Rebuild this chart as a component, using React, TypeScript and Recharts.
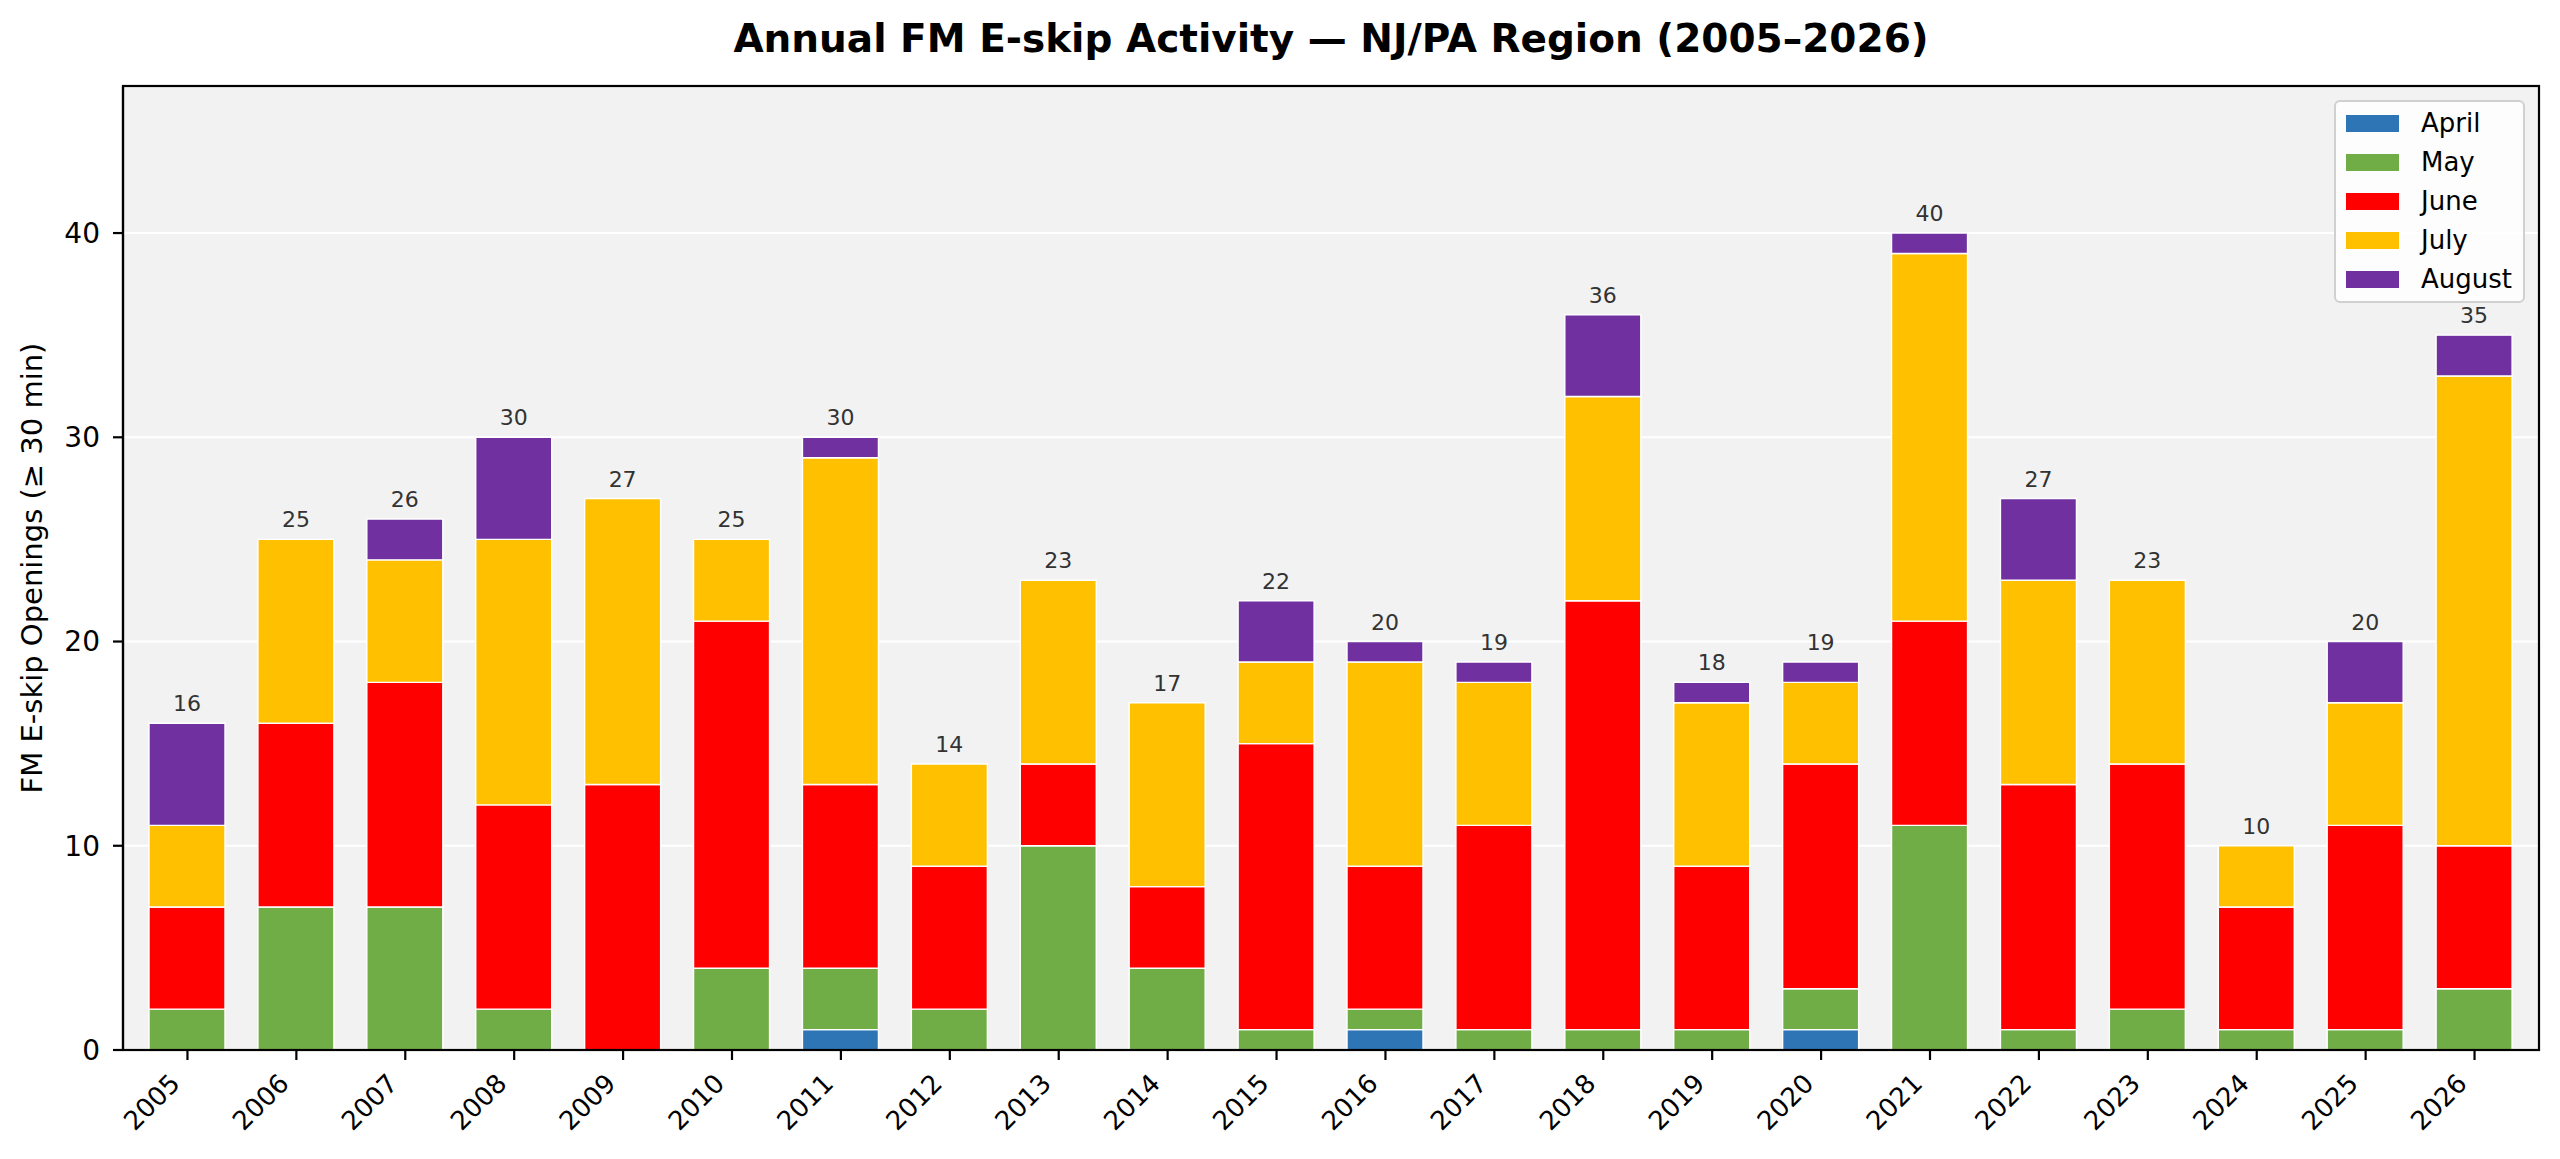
import React from 'react';
import {
  BarChart,
  Bar,
  XAxis,
  YAxis,
  CartesianGrid,
  LabelList,
} from 'recharts';

const years = [
  '2005', '2006', '2007', '2008', '2009', '2010', '2011', '2012', '2013', '2014', '2015',
  '2016', '2017', '2018', '2019', '2020', '2021', '2022', '2023', '2024', '2025', '2026',
];
const april = [0, 0, 0, 0, 0, 0, 1, 0, 0, 0, 0, 1, 0, 0, 0, 1, 0, 0, 0, 0, 0, 0];
const may = [2, 7, 7, 2, 0, 4, 3, 2, 10, 4, 1, 1, 1, 1, 1, 2, 11, 1, 2, 1, 1, 3];
const june = [5, 9, 11, 10, 13, 17, 9, 7, 4, 4, 14, 7, 10, 21, 8, 11, 10, 12, 12, 6, 10, 7];
const july = [4, 9, 6, 13, 14, 4, 16, 5, 9, 9, 4, 10, 7, 10, 8, 4, 18, 10, 9, 3, 6, 23];
const august = [5, 0, 2, 5, 0, 0, 1, 0, 0, 0, 3, 1, 1, 4, 1, 1, 1, 4, 0, 0, 3, 2];

const yTicks = [0, 10, 20, 30, 40];

const months = [
  { key: 'april', name: 'April', color: '#2e75b6' },
  { key: 'may', name: 'May', color: '#70ad47' },
  { key: 'june', name: 'June', color: '#ff0000' },
  { key: 'july', name: 'July', color: '#ffc000' },
  { key: 'august', name: 'August', color: '#7030a0' },
];

const data = years.map((year, i) => ({
  year,
  april: april[i],
  may: may[i],
  june: june[i],
  july: july[i],
  august: august[i],
  total: april[i] + may[i] + june[i] + july[i] + august[i],
}));

const FONT = 'DejaVu Sans, Verdana, sans-serif';
const AXIS = '#000';
const BAR_W = 76;
const X_PAD = { left: 10, right: 10 };

const YearTick = (props: any) => {
  const { x, y, payload } = props;
  const ex = x - 6;
  const ey = y + 25;
  return (
    <text
      x={ex}
      y={ey}
      textAnchor="end"
      fontSize={26}
      fill="#000"
      fontFamily={FONT}
      transform={`rotate(-45, ${ex}, ${ey})`}
    >
      {payload.value}
    </text>
  );
};

const TotalLabel = (props: any) => {
  const { x, y, width, value } = props;
  return (
    <text
      x={Number(x) + Number(width) / 2}
      y={Number(y) - 12}
      textAnchor="middle"
      fontSize={22}
      fill="#333"
      fontFamily={FONT}
    >
      {value}
    </text>
  );
};

const LegendBox = () => (
  <div
    style={{
      position: 'absolute',
      left: 2334,
      top: 100,
      width: 187,
      height: 199,
      border: '2px solid #d0d0d0',
      borderRadius: 6,
      background: 'rgba(255,255,255,0.8)',
      fontFamily: FONT,
      fontSize: 26,
    }}
  >
    {months.map((m, i) => (
      <div
        key={m.key}
        style={{
          position: 'absolute',
          left: 10,
          top: 2 + i * 39,
          height: 38,
          display: 'flex',
          alignItems: 'center',
        }}
      >
        <span style={{ display: 'inline-block', width: 53, height: 17, background: m.color }} />
        <span style={{ marginLeft: 22, lineHeight: '38px' }}>{m.name}</span>
      </div>
    ))}
  </div>
);

export default function App() {
  return (
    <div style={{ position: 'absolute', left: 0, top: 0, width: 2560, height: 1159, background: '#fff', fontFamily: FONT }}>
      <BarChart
        width={2560}
        height={1159}
        data={data}
        margin={{ top: 86, right: 21, bottom: 0, left: 0 }}
        barCategoryGap="30%"
      >
        <CartesianGrid
          vertical={false}
          horizontal
          stroke="#ffffff"
          strokeWidth={2}
          fill="#f2f2f2"
          fillOpacity={1}
        />
        <XAxis
          dataKey="year"
          height={109}
          interval={0}
          padding={X_PAD}
          tickSize={10}
          tickMargin={0}
          axisLine={{ stroke: AXIS, strokeWidth: 2.2 }}
          tickLine={{ stroke: AXIS, strokeWidth: 2.2 }}
          tick={<YearTick />}
        />
        <XAxis xAxisId="totals" dataKey="year" padding={X_PAD} hide />
        <YAxis
          width={123}
          domain={[0, 47.2]}
          ticks={yTicks}
          allowDataOverflow
          tickSize={10}
          tickMargin={13}
          axisLine={{ stroke: AXIS, strokeWidth: 2.2 }}
          tickLine={{ stroke: AXIS, strokeWidth: 2.2 }}
          tick={{ fontSize: 28, fill: '#000', fontFamily: FONT }}
        />
        {months.map((m) => (
          <Bar
            key={m.key}
            dataKey={m.key}
            name={m.name}
            stackId="a"
            barSize={BAR_W}
            fill={m.color}
            stroke="#ffffff"
            strokeWidth={1.4}
            isAnimationActive={false}
          />
        ))}
        <Bar
          xAxisId="totals"
          dataKey="total"
          barSize={BAR_W}
          fill="none"
          stroke="none"
          isAnimationActive={false}
        >
          <LabelList dataKey="total" content={<TotalLabel />} />
        </Bar>
      </BarChart>
      <svg
        width={2560}
        height={1159}
        style={{ position: 'absolute', left: 0, top: 0, pointerEvents: 'none' }}
      >
        <rect x={123} y={86} width={2416} height={964} fill="none" stroke={AXIS} strokeWidth={2.2} />
        <text x={1331} y={52} textAnchor="middle" fontSize={39} fontWeight="bold" fontFamily={FONT} fill="#000">
          Annual FM E-skip Activity — NJ/PA Region (2005–2026)
        </text>
        <text
          x={42}
          y={568}
          textAnchor="middle"
          fontSize={29}
          fontFamily={FONT}
          fill="#000"
          transform="rotate(-90, 42, 568)"
        >
          FM E-skip Openings (≥ 30 min)
        </text>
      </svg>
      <LegendBox />
    </div>
  );
}
